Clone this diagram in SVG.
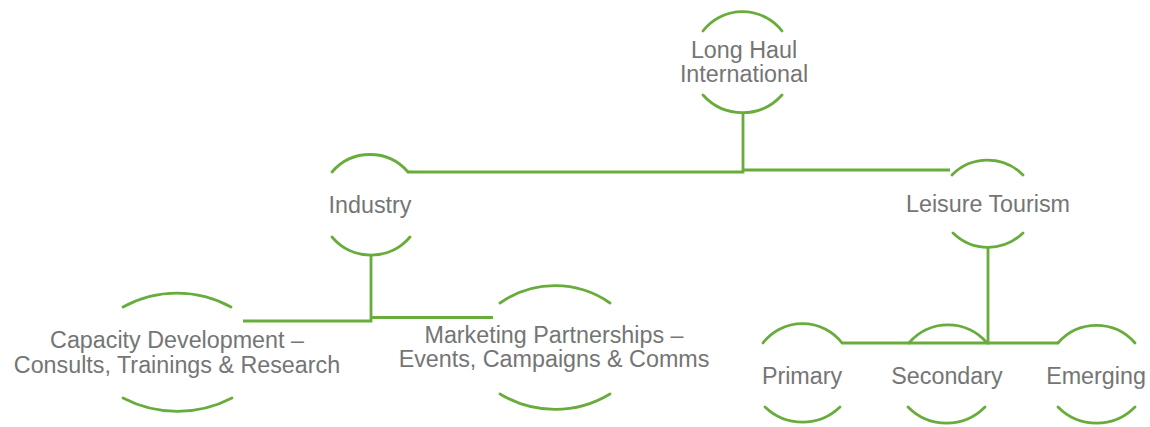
<svg xmlns="http://www.w3.org/2000/svg" width="1150" height="427" viewBox="0 0 1150 427">
  <style>
    .arc { fill: none; stroke: #68AD3C; stroke-width: 2.8; stroke-linecap: round; }
    .wire { fill: none; stroke: #68AD3C; stroke-width: 2.8; }
    .label { font-family: "Liberation Sans", Arial, sans-serif; font-size: 23.3px; fill: #757575; text-anchor: middle; }
  </style>
  <rect width="1150" height="427" fill="#ffffff"/>

  <!-- connectors -->
  <g id="connectors">
    <path class="wire" d="M743,112 V172 H408"/>
    <path class="wire" d="M743,170 H950"/>
    <path class="wire" d="M371,255 V321 H243"/>
    <path class="wire" d="M371,317.5 H493"/>
    <path class="wire" d="M988,247 V343 H842"/>
    <path class="wire" d="M988,343 H1058"/>
  </g>

  <!-- root -->
  <g id="node-long-haul">
    <path class="arc" d="M703,31 A50,50 0 0 1 782,31"/>
    <path class="arc" d="M703,95 A53,53 0 0 0 782,95"/>
    <text class="label" x="744" y="58">Long Haul</text>
    <text class="label" x="744" y="82">International</text>
  </g>

  <g id="node-industry">
    <path class="arc" d="M332,172 A50,50 0 0 1 408,172"/>
    <path class="arc" d="M332,237 A51,51 0 0 0 410,237"/>
    <text class="label" x="370" y="213">Industry</text>
  </g>

  <g id="node-leisure">
    <path class="arc" d="M952,175 A50,50 0 0 1 1023,175"/>
    <path class="arc" d="M953,233 A50,50 0 0 0 1023,233"/>
    <text class="label" x="988" y="212">Leisure Tourism</text>
  </g>

  <g id="node-capacity">
    <path class="arc" d="M123,307 A112,112 0 0 1 231,307"/>
    <path class="arc" d="M123,398 A118,118 0 0 0 232,398"/>
    <text class="label" x="177" y="348">Capacity Development –</text>
    <text class="label" x="177" y="373">Consults, Trainings &amp; Research</text>
  </g>

  <g id="node-marketing">
    <path class="arc" d="M500,303 A96,96 0 0 1 610,303"/>
    <path class="arc" d="M500,394 A106,106 0 0 0 610,394"/>
    <text class="label" x="554" y="343">Marketing Partnerships –</text>
    <text class="label" x="554" y="367">Events, Campaigns &amp; Comms</text>
  </g>

  <g id="node-primary">
    <path class="arc" d="M763,343 A50,50 0 0 1 842,343"/>
    <path class="arc" d="M765,407 A54,54 0 0 0 840,407"/>
    <text class="label" x="802" y="384">Primary</text>
  </g>

  <g id="node-secondary">
    <path class="arc" d="M909,343 A51,51 0 0 1 987,343"/>
    <path class="arc" d="M908,407 A54,54 0 0 0 985,407"/>
    <text class="label" x="947" y="384">Secondary</text>
  </g>

  <g id="node-emerging">
    <path class="arc" d="M1058,343 A51,51 0 0 1 1135,343"/>
    <path class="arc" d="M1058,407 A54,54 0 0 0 1135,407"/>
    <text class="label" x="1096" y="384">Emerging</text>
  </g>
</svg>
